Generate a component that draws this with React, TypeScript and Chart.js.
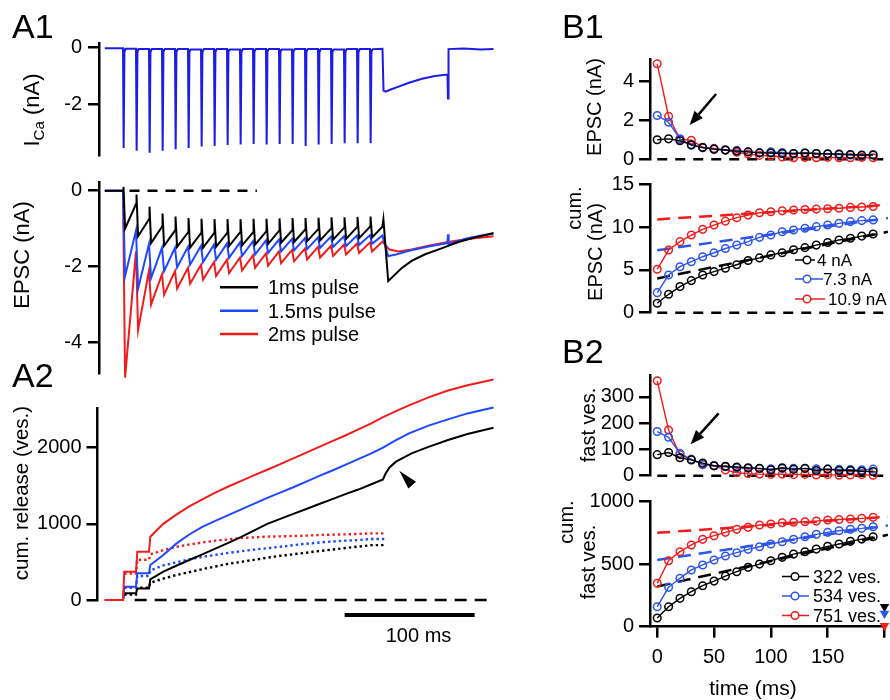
import React, { useEffect, useRef } from "react";
import { Chart, registerables } from "chart.js";
Chart.register(...registerables);

const FONT = '"Liberation Sans", Arial, Helvetica, sans-serif';
const BLACK = "#000000";
const BLUE_ICA = "#1c1ce8";
const BLUE = "#1f47ff";
const RED = "#f01c1c";
const BLUE_B = "#2d55ea";

// ---------------- DATA ----------------
// pulse times (ms) of the 100 Hz train, t = 0 at first pulse
const PULSE_T = [0, 10, 20, 30, 40, 50, 60, 70, 80, 90, 100, 110, 120, 130, 140, 150, 160, 170, 180, 190];

// A1: Ca current (nA)
const ICA_PEAK = [-3.55, -3.65, -3.72, -3.65, -3.6, -3.55, -3.5, -3.48, -3.45, -3.43, -3.41, -3.43, -3.41, -3.41, -3.48, -3.43, -3.41, -3.38, -3.38, -3.38];
const ICA_HOOK = [-0.14, -0.15, -0.15, -0.14, -0.15, -0.14, -0.15, -0.14, -0.14, -0.15, -0.14, -0.14, -0.15, -0.14, -0.14, -0.15, -0.14, -0.14, -0.15, -0.14];
const ICA_REST = [-0.04, -0.05, -0.05, -0.05, -0.05, -0.06, -0.05, -0.05, -0.06, -0.05, -0.05, -0.05, -0.06, -0.05, -0.05, -0.05, -0.06, -0.05, -0.05, -0.05];
const ICA_TAIL_T = [199.6, 200.4, 202, 206, 212, 220, 230, 240, 249.6, 250, 250.4, 262, 275, 285];
const ICA_TAIL_V = [-0.04, -1.52, -1.56, -1.48, -1.38, -1.24, -1.1, -1.0, -0.95, -1.8, -0.05, -0.03, -0.06, -0.05];

// A1: EPSC (nA) – level before each pulse, artifact spike, trough after pulse
const EPSC_BLACK_TOP = [0, -0.35, -0.75, -0.95, -1.05, -1.1, -1.12, -1.12, -1.12, -1.1, -1.1, -1.08, -1.06, -1.05, -1.03, -1.02, -1.0, -0.98, -0.96, -0.95];
const EPSC_BLACK_SPIKE = [0.1, -0.1, -0.42, -0.6, -0.68, -0.72, -0.74, -0.75, -0.75, -0.75, -0.74, -0.74, -0.73, -0.72, -0.72, -0.71, -0.7, -0.7, -0.69, -0.68];
const EPSC_BLACK_VALLEY = [-1.0, -1.2, -1.38, -1.45, -1.48, -1.5, -1.5, -1.48, -1.46, -1.44, -1.42, -1.4, -1.37, -1.35, -1.33, -1.31, -1.29, -1.27, -1.25, -1.23];
const EPSC_BLACK_TAIL_T = [199.5, 200.3, 204, 208, 214, 222, 232, 245, 258, 272, 285];
const EPSC_BLACK_TAIL_V = [-0.95, -0.75, -2.38, -2.25, -2.05, -1.85, -1.68, -1.52, -1.35, -1.22, -1.12];

const EPSC_BLUE_TOP = [0, -1.05, -1.4, -1.5, -1.5, -1.48, -1.45, -1.42, -1.39, -1.36, -1.33, -1.31, -1.29, -1.27, -1.25, -1.23, -1.21, -1.2, -1.18, -1.17];
const EPSC_BLUE_VALLEY = [-2.25, -2.58, -2.3, -2.12, -2.02, -1.95, -1.88, -1.82, -1.77, -1.72, -1.68, -1.64, -1.6, -1.57, -1.54, -1.51, -1.48, -1.46, -1.43, -1.4];
const EPSC_BLUE_TAIL_T = [199.5, 204, 210, 220, 235, 249.5, 250, 250.5, 265, 285];
const EPSC_BLUE_TAIL_V = [-1.18, -1.72, -1.68, -1.58, -1.47, -1.38, -1.15, -1.4, -1.25, -1.12];

const EPSC_RED_TOP = [0, -1.6, -2.1, -2.2, -2.12, -2.03, -1.95, -1.88, -1.82, -1.76, -1.7, -1.65, -1.6, -1.56, -1.52, -1.48, -1.45, -1.42, -1.39, -1.36];
const EPSC_RED_VALLEY = [-4.92, -3.67, -3.0, -2.74, -2.58, -2.45, -2.34, -2.25, -2.17, -2.1, -2.03, -1.97, -1.91, -1.86, -1.81, -1.76, -1.72, -1.68, -1.64, -1.6];
const EPSC_RED_TAIL_T = [199.5, 205, 212, 222, 235, 250, 265, 285];
const EPSC_RED_TAIL_V = [-1.34, -1.55, -1.6, -1.55, -1.45, -1.35, -1.27, -1.2];

// A2: cumulative release (ves.) after each pulse
const CUM_BLACK = [88, 150, 270, 372, 450, 525, 600, 675, 750, 830, 915, 1000, 1065, 1130, 1195, 1260, 1325, 1390, 1450, 1520];
const CUM_BLUE = [175, 350, 460, 590, 740, 860, 960, 1040, 1115, 1190, 1265, 1340, 1410, 1480, 1555, 1630, 1700, 1775, 1850, 1925];
const CUM_RED = [372, 634, 831, 1000, 1120, 1230, 1320, 1410, 1490, 1565, 1640, 1710, 1785, 1860, 1935, 2010, 2085, 2160, 2240, 2320];
const CUM_BLACK_TAIL_T = [200, 202, 205, 210, 222, 235, 250, 265, 285];
const CUM_BLACK_TAIL_V = [1584, 1660, 1740, 1816, 1925, 2010, 2100, 2180, 2262];
const CUM_BLUE_TAIL_T = [200, 210, 220, 235, 250, 265, 285];
const CUM_BLUE_TAIL_V = [2000, 2100, 2187, 2290, 2371, 2450, 2528];
const CUM_RED_TAIL_T = [200, 210, 220, 235, 250, 265, 285];
const CUM_RED_TAIL_V = [2400, 2480, 2555, 2660, 2750, 2820, 2895];

// B: stimulus times (ms)
const B_T = [0, 10, 20, 30, 40, 50, 60, 70, 80, 90, 100, 110, 120, 130, 140, 150, 160, 170, 180, 190];
// B1 top: EPSC amplitude (nA)
const B1_BLACK = [1.0, 1.05, 0.95, 0.75, 0.6, 0.52, 0.48, 0.42, 0.38, 0.33, 0.32, 0.3, 0.3, 0.32, 0.3, 0.28, 0.27, 0.25, 0.22, 0.22];
const B1_BLUE = [2.25, 1.9, 1.05, 0.72, 0.6, 0.52, 0.48, 0.45, 0.38, 0.33, 0.38, 0.35, 0.3, 0.32, 0.3, 0.27, 0.24, 0.22, 0.2, 0.25];
const B1_RED = [4.9, 2.2, 1.02, 0.98, 0.62, 0.56, 0.48, 0.36, 0.27, 0.2, 0.18, 0.12, 0.08, 0.1, 0.08, 0.1, 0.08, 0.08, 0.1, 0.08];
// B1 bottom: cumulative EPSC (nA)
const B1C_BLACK = [1.1, 2.15, 3.05, 3.75, 4.4, 4.8, 5.2, 5.6, 6.1, 6.4, 6.75, 7.0, 7.35, 7.6, 7.9, 8.2, 8.5, 8.7, 8.95, 9.2];
const B1C_BLUE = [2.34, 4.4, 5.37, 5.96, 6.54, 7.0, 7.5, 7.9, 8.3, 8.8, 9.07, 9.46, 9.66, 9.86, 10.05, 10.25, 10.44, 10.64, 10.76, 10.84];
const B1C_RED = [5.07, 7.32, 8.3, 9.07, 9.74, 10.24, 10.7, 11.1, 11.4, 11.68, 11.8, 11.9, 12.0, 12.05, 12.1, 12.15, 12.2, 12.3, 12.35, 12.4];
// linear fits (line end points at FIT_T)
const FIT_T = [0, 203];
const FIT1_BLACK = [4.0, 9.45];
const FIT1_BLUE = [7.3, 11.05];
const FIT1_RED = [10.9, 12.6];
// B2 top: fast vesicles per stimulus
const B2_BLACK = [80, 88, 68, 60, 48, 38, 36, 33, 30, 28, 22, 30, 24, 28, 20, 25, 20, 20, 17, 16];
const B2_BLUE = [168, 146, 85, 62, 42, 38, 34, 30, 28, 27, 26, 27, 28, 27, 26, 25, 24, 23, 22, 25];
const B2_RED = [361, 174, 80, 62, 42, 38, 22, 11, 8, 6, 5, 6, 4, 5, 3, 4, 2, 3, 4, 2];
// B2 bottom: cumulative fast vesicles
const B2C_BLACK = [70, 160, 227, 280, 328, 365, 405, 440, 475, 501, 528, 555, 581, 600, 621, 643, 662, 683, 701, 720];
const B2C_BLUE = [160, 315, 387, 454, 494, 534, 566, 592, 619, 640, 662, 680, 699, 720, 739, 755, 768, 779, 787, 800];
const B2C_RED = [347, 528, 600, 654, 699, 728, 755, 779, 795, 814, 822, 832, 836, 840, 845, 854, 858, 862, 867, 875];
const FIT2_BLACK = [322, 735];
const FIT2_BLUE = [534, 810];
const FIT2_RED = [751, 880];
// pool markers at the end of B2
const TRI_T = [200, 200, 200];
const TRI_V = [160, 105, 8];

// tick values / labels
const ICA_TICKS = [0, -2];
const ICA_LABELS = ["0", "-2"];
const EPSC_TICKS = [0, -2, -4];
const EPSC_LABELS = ["0", "-2", "-4"];
const CUMREL_TICKS = [0, 1000, 2000];
const CUMREL_LABELS = ["0", "1000", "2000"];
const B1_TICKS = [0, 2, 4];
const B1_LABELS = ["0", "2", "4"];
const B1C_TICKS = [0, 5, 10, 15];
const B1C_LABELS = ["0", "5", "10", "15"];
const B2_TICKS = [0, 100, 200, 300];
const B2_LABELS = ["0", "100", "200", "300"];
const B2C_TICKS = [0, 500, 1000];
const B2C_LABELS = ["0", "500", "1000"];
const TIME_TICKS = [0, 50, 100, 150, 200];
const TIME_LABELS = ["0", "50", "100", "150", ""];

// ---------------- builders ----------------
type P = { x: number; y: number };
const xy = (T: number[], V: number[]): P[] => T.map((t, i) => ({ x: t, y: V[i] }));

function icaTrace(): P[] {
  const pts: P[] = [{ x: -14, y: -0.02 }];
  PULSE_T.forEach((t, k) => {
    pts.push({ x: t, y: k ? ICA_REST[k - 1] : -0.02 });
    pts.push({ x: t + 0.5, y: ICA_PEAK[k] });
    pts.push({ x: t + 1.1, y: ICA_HOOK[k] });
    pts.push({ x: t + 2.2, y: ICA_REST[k] });
  });
  return pts.concat(xy(ICA_TAIL_T, ICA_TAIL_V));
}
function epscTrace(top: number[], valley: number[], spike: number[] | null, tT: number[], tV: number[]): P[] {
  const pts: P[] = [{ x: -14, y: 0 }];
  PULSE_T.forEach((t, k) => {
    pts.push({ x: t, y: top[k] });
    if (spike) pts.push({ x: t + 0.4, y: spike[k] });
    pts.push({ x: t + 1.6, y: valley[k] });
  });
  return pts.concat(xy(tT, tV));
}
// cumulative curves: sharp steps for the first pulses, then the running sum after each pulse
function cumTrace(c: number[], tT: number[] | null, tV: number[] | null, fromZero: boolean): P[] {
  const pts: P[] = fromZero ? [{ x: -14, y: 0 }, { x: 0, y: 0 }] : [];
  PULSE_T.forEach((t, k) => {
    if (k > 0 && k < 3) pts.push({ x: t, y: c[k - 1] });
    pts.push({ x: t + 1, y: c[k] });
  });
  if (tT && tV) return pts.concat(xy(tT, tV));
  pts.push({ x: 202, y: c[c.length - 1] });
  return pts;
}

// ---------------- chart helpers ----------------
const annotPlugin = {
  id: "annot",
  afterDatasetsDraw(chart: any, _a: any, opts: any) {
    const ctx = chart.ctx;
    const xs = chart.scales.x, ys = chart.scales.y;
    const px = (p: number[]) => [xs.getPixelForValue(p[0]), ys.getPixelForValue(p[1])];
    ctx.save();
    ctx.fillStyle = "#000";
    ctx.strokeStyle = "#000";
    (opts.arrows || []).forEach((a: any) => {
      const [x1, y1] = px(a.from);
      const [x2, y2] = px(a.to);
      const ang = Math.atan2(y2 - y1, x2 - x1);
      const L = 14, W = 5.5;
      const bx = x2 - L * Math.cos(ang), by = y2 - L * Math.sin(ang);
      ctx.lineWidth = 2.5;
      ctx.beginPath();
      ctx.moveTo(x1, y1);
      ctx.lineTo(bx, by);
      ctx.stroke();
      ctx.beginPath();
      ctx.moveTo(x2, y2);
      ctx.lineTo(bx + W * Math.sin(ang), by - W * Math.cos(ang));
      ctx.lineTo(bx - W * Math.sin(ang), by + W * Math.cos(ang));
      ctx.closePath();
      ctx.fill();
    });
    (opts.polys || []).forEach((poly: number[][]) => {
      ctx.beginPath();
      poly.forEach((p, i) => {
        const [x, y] = px(p);
        if (i) ctx.lineTo(x, y);
        else ctx.moveTo(x, y);
      });
      ctx.closePath();
      ctx.fill();
    });
    ctx.restore();
  },
};

const Y_W = 70;
const X_H = 60;
const axisLook = {
  grid: { display: true, drawOnChartArea: false, drawTicks: true, tickLength: 11, tickWidth: 2.5, tickColor: "#000", color: "#000", lineWidth: 2.5 },
  border: { display: true, color: "#000", width: 2.5 },
};

type Area = { l: number; t: number; r: number; b: number };
function makeConfig(p: {
  area: Area; xr: number[]; yr: number[]; yTicks: number[]; yLabels: string[];
  datasets: any[]; annot?: any; xTicks?: number[]; xLabels?: string[]; tickPad?: number;
}) {
  const showX = !!p.xTicks;
  const x = showX
    ? {
        type: "linear", position: "bottom", min: p.xr[0], max: p.xr[1],
        afterFit: (s: any) => { s.height = X_H; s.paddingLeft = 0; s.paddingRight = 0; },
        afterBuildTicks: (s: any) => { s.ticks = p.xTicks!.map((v) => ({ value: v })); },
        ticks: { autoSkip: false, maxRotation: 0, minRotation: 0, padding: 8, color: "#000", font: { family: FONT, size: 20 }, callback: (_v: any, i: number) => p.xLabels![i] },
        ...axisLook,
      }
    : { type: "linear", display: false, min: p.xr[0], max: p.xr[1] };
  return {
    type: "line",
    data: { datasets: p.datasets },
    plugins: [annotPlugin],
    options: {
      responsive: false,
      animation: false,
      events: [],
      layout: { padding: { left: p.area.l - Y_W, top: p.area.t, right: 890 - p.area.r, bottom: 700 - p.area.b - (showX ? X_H : 0) } },
      plugins: { legend: { display: false }, tooltip: { enabled: false }, title: { display: false }, annot: p.annot || {} },
      scales: {
        x,
        y: {
          type: "linear", position: "left", min: p.yr[0], max: p.yr[1],
          afterFit: (s: any) => { s.width = Y_W; s.paddingTop = 0; s.paddingBottom = 0; },
          afterBuildTicks: (s: any) => { s.ticks = p.yTicks.map((v) => ({ value: v })); },
          ticks: { autoSkip: false, padding: p.tickPad ?? 5, color: "#000", font: { family: FONT, size: 20 }, callback: (_v: any, i: number) => p.yLabels[i] },
          ...axisLook,
        },
      },
    },
  };
}

const trace = (data: P[], color: string, width = 2, dash: number[] = []) => ({
  data, borderColor: color, borderWidth: width, borderDash: dash, pointRadius: 0, tension: 0, fill: false, clip: false,
});
const markers = (data: P[], color: string) => ({
  data, borderColor: color, borderWidth: 1.4, pointRadius: 3.8, pointStyle: "circle", pointBorderWidth: 1.5,
  pointBorderColor: color, pointBackgroundColor: "rgba(0,0,0,0)", tension: 0, fill: false, clip: false,
});
const refLine = (T: number[], V: number[], color: string, dash: number[]) => trace(xy(T, V), color, 2.5, dash);

// time mapping of A panels: t = 0 at x = 123 px, 1.3 px/ms
const aX = (l: number) => [(l - 123) / 1.3, (493 - 123) / 1.3];
const B_X = [-6.36, 200];

const CONFIGS = [
  () => makeConfig({
    area: { l: 99, t: 43.3, r: 493, b: 155 }, xr: aX(99), yr: [-3.8, 0.156],
    yTicks: ICA_TICKS, yLabels: ICA_LABELS, tickPad: 6,
    datasets: [trace(icaTrace(), BLUE_ICA, 2)],
  }),
  () => makeConfig({
    area: { l: 99, t: 182.7, r: 493, b: 373 }, xr: aX(99), yr: [-4.8, 0.21],
    yTicks: EPSC_TICKS, yLabels: EPSC_LABELS, tickPad: 6,
    datasets: [
      trace(epscTrace(EPSC_BLACK_TOP, EPSC_BLACK_VALLEY, EPSC_BLACK_SPIKE, EPSC_BLACK_TAIL_T, EPSC_BLACK_TAIL_V), BLACK, 2),
      trace(epscTrace(EPSC_BLUE_TOP, EPSC_BLUE_VALLEY, null, EPSC_BLUE_TAIL_T, EPSC_BLUE_TAIL_V), BLUE, 2),
      trace(epscTrace(EPSC_RED_TOP, EPSC_RED_VALLEY, null, EPSC_RED_TAIL_T, EPSC_RED_TAIL_V), RED, 2),
      refLine([5, 103], [0, 0], BLACK, [10, 8]),
    ],
  }),
  () => makeConfig({
    area: { l: 97.5, t: 408.3, r: 493, b: 600 }, xr: aX(97.5), yr: [0, 2517],
    yTicks: CUMREL_TICKS, yLabels: CUMREL_LABELS, tickPad: 5,
    datasets: [
      trace(cumTrace(CUM_RED, CUM_RED_TAIL_T, CUM_RED_TAIL_V, true), RED, 2),
      trace(cumTrace(CUM_BLUE, CUM_BLUE_TAIL_T, CUM_BLUE_TAIL_V, true), BLUE, 2),
      trace(cumTrace(CUM_BLACK, CUM_BLACK_TAIL_T, CUM_BLACK_TAIL_V, true), BLACK, 2),
      trace(cumTrace(B2C_RED, null, null, false), RED, 2.4, [2.4, 3]),
      trace(cumTrace(B2C_BLUE, null, null, false), BLUE, 2.4, [2.4, 3]),
      trace(cumTrace(B2C_BLACK, null, null, false), BLACK, 2.4, [2.4, 3]),
      refLine([9, 285], [0, 0], BLACK, [12, 8]),
      trace(xy([170.5, 270.5], [-197, -197]), BLACK, 4),
    ],
    annot: { polys: [[[212.5, 1697], [225.4, 1552], [219.5, 1465]]] },
  }),
  () => makeConfig({
    area: { l: 650, t: 59.3, r: 886.7, b: 159.3 }, xr: B_X, yr: [0, 5.13],
    yTicks: B1_TICKS, yLabels: B1_LABELS,
    datasets: [
      markers(xy(B_T, B1_BLACK), BLACK),
      markers(xy(B_T, B1_BLUE), BLUE_B),
      markers(xy(B_T, B1_RED), RED),
      refLine([0, 203], [0, 0], BLACK, [10, 8]),
    ],
    annot: { arrows: [{ from: [51.8, 3.35], to: [28.5, 1.76] }] },
  }),
  () => makeConfig({
    area: { l: 650, t: 184.3, r: 886.7, b: 312.7 }, xr: B_X, yr: [0, 15],
    yTicks: B1C_TICKS, yLabels: B1C_LABELS,
    datasets: [
      markers(xy(B_T, B1C_BLACK), BLACK),
      markers(xy(B_T, B1C_BLUE), BLUE_B),
      markers(xy(B_T, B1C_RED), RED),
      refLine(FIT_T, FIT1_BLACK, BLACK, [13, 8]),
      refLine(FIT_T, FIT1_BLUE, BLUE_B, [13, 8]),
      refLine(FIT_T, FIT1_RED, RED, [13, 8]),
      refLine([0, 203], [0, 0], BLACK, [10, 8]),
    ],
  }),
  () => makeConfig({
    area: { l: 650, t: 375, r: 886.7, b: 475.7 }, xr: B_X, yr: [0, 383],
    yTicks: B2_TICKS, yLabels: B2_LABELS,
    datasets: [
      markers(xy(B_T, B2_BLACK), BLACK),
      markers(xy(B_T, B2_BLUE), BLUE_B),
      markers(xy(B_T, B2_RED), RED),
      refLine([0, 203], [0, 0], BLACK, [10, 8]),
    ],
    annot: { arrows: [{ from: [54, 237], to: [29.4, 120] }] },
  }),
  () => makeConfig({
    area: { l: 650, t: 501.7, r: 886.7, b: 626.7 }, xr: B_X, yr: [0, 1000],
    yTicks: B2C_TICKS, yLabels: B2C_LABELS, xTicks: TIME_TICKS, xLabels: TIME_LABELS,
    datasets: [
      {
        data: xy(TRI_T, TRI_V), showLine: false, pointStyle: "triangle", rotation: 180, pointRadius: 5.5,
        pointBackgroundColor: [BLACK, BLUE_B, RED], pointBorderColor: [BLACK, BLUE_B, RED], pointBorderWidth: 0, clip: false,
      },
      markers(xy(B_T, B2C_BLACK), BLACK),
      markers(xy(B_T, B2C_BLUE), BLUE_B),
      markers(xy(B_T, B2C_RED), RED),
      refLine(FIT_T, FIT2_BLACK, BLACK, [13, 8]),
      refLine(FIT_T, FIT2_BLUE, BLUE_B, [13, 8]),
      refLine(FIT_T, FIT2_RED, RED, [13, 8]),
    ],
  }),
];

function ChartCanvas({ make }: { make: () => any }) {
  const ref = useRef<HTMLCanvasElement>(null);
  useEffect(() => {
    const chart = new Chart(ref.current as HTMLCanvasElement, make());
    return () => chart.destroy();
  }, []);
  return <canvas ref={ref} width={890} height={700} style={{ position: "absolute", left: 0, top: 0, width: 890, height: 700 }} />;
}

const txt = (size: number): React.CSSProperties => ({ position: "absolute", fontFamily: FONT, fontSize: size, lineHeight: 1, color: "#000", whiteSpace: "nowrap" });

function VLabel({ cx, cy, size, children }: { cx: number; cy: number; size: number; children: React.ReactNode }) {
  return <div style={{ ...txt(size), left: cx, top: cy, transform: "translate(-50%,-50%) rotate(-90deg)" }}>{children}</div>;
}
function HText({ x, cy, size, children, center }: { x: number; cy: number; size: number; children: React.ReactNode; center?: boolean }) {
  return <div style={{ ...txt(size), left: x, top: cy, transform: center ? "translate(-50%,-50%)" : "translateY(-50%)" }}>{children}</div>;
}

const LEG_A = [
  { y: 287.3, color: BLACK, text: "1ms pulse" },
  { y: 310.7, color: BLUE, text: "1.5ms pulse" },
  { y: 334, color: RED, text: "2ms pulse" },
];
const LEG_B1 = [
  { y: 260, color: BLACK, text: "4 nA", x2: 815, tx: 817 },
  { y: 279, color: BLUE_B, text: "7.3 nA", x2: 823, tx: 823 },
  { y: 299, color: RED, text: "10.9 nA", x2: 825, tx: 828 },
];
const LEG_B2 = [
  { y: 576.5, color: BLACK, text: "322 ves." },
  { y: 596, color: BLUE_B, text: "534 ves." },
  { y: 615.5, color: RED, text: "751 ves." },
];

export default function App() {
  return (
    <div style={{ position: "absolute", left: 0, top: 0, width: 890, height: 700, overflow: "hidden", background: "#fff" }}>
      {CONFIGS.map((m, i) => <ChartCanvas key={i} make={m} />)}
      <svg width={890} height={700} style={{ position: "absolute", left: 0, top: 0 }}>
        {LEG_A.map((l, i) => <line key={"a" + i} x1={220} x2={258} y1={l.y} y2={l.y} stroke={l.color} strokeWidth={2.5} />)}
        {LEG_B1.map((l, i) => (
          <g key={"b1" + i}>
            <line x1={795} x2={l.x2} y1={l.y} y2={l.y} stroke={l.color} strokeWidth={1.5} />
            <circle cx={807} cy={l.y} r={3.8} fill="#fff" stroke={l.color} strokeWidth={1.5} />
          </g>
        ))}
        {LEG_B2.map((l, i) => (
          <g key={"b2" + i}>
            <line x1={782} x2={809} y1={l.y} y2={l.y} stroke={l.color} strokeWidth={1.5} />
            <circle cx={795} cy={l.y} r={3.8} fill="#fff" stroke={l.color} strokeWidth={1.5} />
          </g>
        ))}
      </svg>
      {LEG_A.map((l, i) => <HText key={"ta" + i} x={268} cy={l.y} size={20}>{l.text}</HText>)}
      {LEG_B1.map((l, i) => <HText key={"tb1" + i} x={l.tx} cy={l.y} size={17}>{l.text}</HText>)}
      {LEG_B2.map((l, i) => <HText key={"tb2" + i} x={813} cy={l.y} size={18}>{l.text}</HText>)}

      <div style={{ ...txt(34), left: 12, top: 9 }}>A1</div>
      <div style={{ ...txt(34), left: 12, top: 358 }}>A2</div>
      <div style={{ ...txt(34), left: 562, top: 9 }}>B1</div>
      <div style={{ ...txt(34), left: 562, top: 334 }}>B2</div>

      <VLabel cx={33} cy={110} size={22}>
        <span>I<sub style={{ fontSize: 15, verticalAlign: "-5px" }}>Ca</sub> (nA)</span>
      </VLabel>
      <VLabel cx={22} cy={255} size={22}>EPSC (nA)</VLabel>
      <VLabel cx={21} cy={493} size={20.5}>cum. release (ves.)</VLabel>
      <VLabel cx={594} cy={107} size={20}>EPSC (nA)</VLabel>
      <VLabel cx={574} cy={208} size={20}>cum.</VLabel>
      <VLabel cx={595} cy={252} size={20}>EPSC (nA)</VLabel>
      <VLabel cx={588} cy={425} size={20}>fast ves.</VLabel>
      <VLabel cx={566} cy={522} size={20}>cum.</VLabel>
      <VLabel cx={588} cy={562} size={20}>fast ves.</VLabel>

      <HText x={418.5} cy={635} size={20} center>100 ms</HText>
      <HText x={753} cy={687} size={21} center>time (ms)</HText>
    </div>
  );
}
